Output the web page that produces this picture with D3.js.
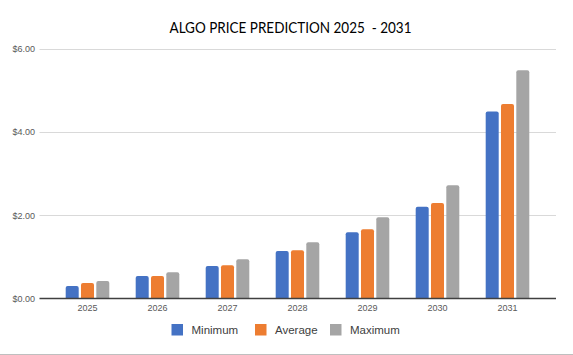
<!DOCTYPE html>
<html><head><meta charset="utf-8">
<script src="https://cdn.jsdelivr.net/npm/d3@7"></script>
<style>
html,body{margin:0;padding:0;background:#fff;}
svg{display:block;font-family:"Liberation Sans","Open Sans",Arial,sans-serif;}
</style></head>
<body><svg id="c" width="573" height="355"></svg>
<script>
const title = "ALGO PRICE PREDICTION 2025\u00a0 - 2031";
const categories = ["2025","2026","2027","2028","2029","2030","2031"];
const seriesNames = ["Minimum","Average","Maximum"];
const minimum = [0.30,0.54,0.78,1.14,1.59,2.20,4.49];
const average = [0.37,0.54,0.80,1.16,1.66,2.29,4.67];
const maximum = [0.42,0.63,0.94,1.35,1.95,2.72,5.48];
const yTicks = [0,2,4,6];
const colors = ["#4472C4","#ED7D31","#A5A5A5"];
const seriesValues = [minimum, average, maximum];

const svg = d3.select("#c");
const W = 573, H = 355;
const plotL = 39.5, plotR = 556;

const y = d3.scaleLinear().domain([0,6]).range([298.5, 48.5]);
const x0 = d3.scaleBand().domain(categories).range([52.5, 542.5]).paddingInner(0).paddingOuter(0);
const x1 = d3.scaleBand().domain(seriesNames).range([0, x0.bandwidth()]).paddingInner(0.15).paddingOuter(0.8625);

// title
svg.append("text").attr("x", 290.5).attr("y", 32.5).attr("text-anchor","middle")
  .attr("textLength", 242).attr("lengthAdjust", "spacingAndGlyphs")
  .style("font-family", "Lato, 'Liberation Sans', sans-serif")
  .style("font-size","15.5px").style("fill","#000").text(title);

// gridlines
const yAxis = d3.axisLeft(y).tickValues(yTicks).tickFormat(d => "$" + d.toFixed(2)).tickSize(0).tickPadding(4);
const gy = svg.append("g").attr("transform", `translate(${plotL},0)`).call(yAxis);
gy.select(".domain").remove();
gy.selectAll("text").style("font-size","9px").style("fill","#595959").attr("x", -4.5).attr("font-family", null);
svg.append("g").selectAll("line").data(yTicks.filter(d => d !== 0)).join("line")
  .attr("x1", plotL).attr("x2", plotR)
  .attr("y1", d => Math.round(y(d)) + 0.5).attr("y2", d => Math.round(y(d)) + 0.5)
  .attr("stroke", "#D9D9D9").attr("stroke-width", 1);

// bars
const r = 2;
function barPath(xl, w, top, bottom) {
  const p = d3.path();
  const rr = Math.min(r, (bottom - top));
  p.moveTo(xl, bottom);
  p.lineTo(xl, top + rr);
  p.quadraticCurveTo(xl, top, xl + rr, top);
  p.lineTo(xl + w - rr, top);
  p.quadraticCurveTo(xl + w, top, xl + w, top + rr);
  p.lineTo(xl + w, bottom);
  p.closePath();
  return p.toString();
}
const groups = svg.append("g").selectAll("g").data(categories).join("g")
  .attr("transform", d => `translate(${x0(d)},0)`);
groups.selectAll("path").data((d, i) => seriesNames.map((s, j) => ({s, j, v: seriesValues[j][i]}))).join("path")
  .attr("d", d => barPath(x1(d.s), x1.bandwidth(), y(d.v), y(0)))
  .attr("fill", d => colors[d.j]);

// x axis
const xAxis = d3.axisBottom(x0).tickSize(0).tickPadding(6);
const gx = svg.append("g").attr("transform", `translate(0,${y(0)})`).call(xAxis);
gx.select(".domain").remove();
gx.selectAll("text").style("font-size","9px").style("fill","#595959").attr("font-family", null);
svg.append("line").attr("x1", plotL).attr("x2", plotR).attr("y1", y(0)).attr("y2", y(0))
  .attr("stroke", "#404040").attr("stroke-width", 1.3);

// legend
const legendX = [171.5, 255, 330];
const lg = svg.append("g").selectAll("g").data(seriesNames).join("g")
  .attr("transform", (d, i) => `translate(${legendX[i]},324)`);
lg.append("rect").attr("width", 11.5).attr("height", 11.5).attr("fill", (d, i) => colors[i]);
lg.append("text").attr("x", 20).attr("y", 9.5).style("font-size","11.5px").style("fill","#404040").text(d => d);

// bottom border
svg.append("line").attr("x1", 0).attr("x2", W).attr("y1", 354.5).attr("y2", 354.5).attr("stroke", "#BFBFBF");
</script></body></html>
